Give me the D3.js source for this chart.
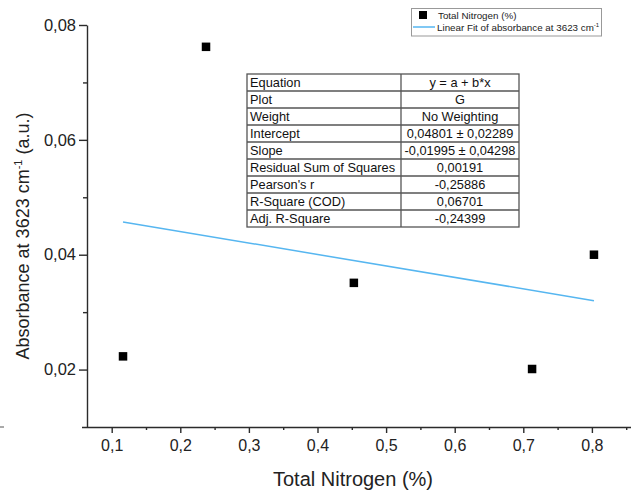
<!DOCTYPE html>
<html>
<head>
<meta charset="utf-8">
<script src="https://cdn.jsdelivr.net/npm/d3@7"></script>
<style>
  html, body { margin: 0; padding: 0; background: #fff; }
  svg { display: block; font-family: "Liberation Sans", Arial, sans-serif; }
</style>
</head>
<body>
<svg id="chart" width="631" height="493"></svg>
<script>
// ---- Data ----
const nitrogen = [0.1165, 0.2375, 0.453, 0.7128, 0.803];
const absorbance = [0.0223, 0.0762, 0.0351, 0.0201, 0.0400];
const fitX = [0.1165, 0.803];
const fitY = [0.0457, 0.0320];
const xMajorTicks = [0.1, 0.2, 0.3, 0.4, 0.5, 0.6, 0.7, 0.8];
const xMinorTicks = [0.15, 0.25, 0.35, 0.45, 0.55, 0.65, 0.75, 0.85];
const yMajorTicks = [0.02, 0.04, 0.06, 0.08];
const yMinorTicks = [0.03, 0.05, 0.07];
const tableLabels = ["Equation", "Plot", "Weight", "Intercept", "Slope",
  "Residual Sum of Squares", "Pearson's r", "R-Square (COD)", "Adj. R-Square"];
const tableValues = ["y = a + b*x", "G", "No Weighting", "0,04801 \u00B1 0,02289",
  "-0,01995 \u00B1 0,04298", "0,00191", "-0,25886", "0,06701", "-0,24399"];
const legendLabels = ["Total Nitrogen (%)", "Linear Fit of absorbance at 3623 cm"];

// ---- Setup ----
const svg = d3.select("#chart");
const axisColor = "#2b2b2b";
const fitColor = "#56b6f0";

const x = d3.scaleLinear().domain([0.064, 0.857]).range([87, 631]);
const y = d3.scaleLinear().domain([0.01, 0.08]).range([427, 25]);

const loc = d3.formatLocale({decimal: ",", thousands: ".", grouping: [3], currency: ["", ""]});
const fx = loc.format(".1f");
const fy = loc.format(".2f");

// ---- Axes ----
const xAxisG = svg.append("g").attr("transform", `translate(0,${y(0.01)})`);
xAxisG.call(d3.axisBottom(x).tickValues(xMajorTicks).tickFormat(fx).tickSize(6).tickSizeOuter(0));
xAxisG.append("g").call(d3.axisBottom(x).tickValues(xMinorTicks).tickFormat("").tickSize(3).tickSizeOuter(0))
  .select(".domain").remove();
xAxisG.selectAll(".domain").attr("d", `M82,0.5H631`);
xAxisG.selectAll("path, line").attr("stroke", axisColor).attr("stroke-width", 1.4);
xAxisG.selectAll(".tick text")
  .attr("font-family", "Liberation Sans, Arial, sans-serif")
  .attr("font-size", 16).attr("fill", "#222").attr("dy", "1.05em").attr("y", 7);

const yAxisG = svg.append("g").attr("transform", `translate(${x(0.064)},0)`);
yAxisG.call(d3.axisLeft(y).tickValues(yMajorTicks).tickFormat(fy).tickSize(8).tickSizeOuter(0));
yAxisG.append("g").call(d3.axisLeft(y).tickValues(yMinorTicks).tickFormat("").tickSize(4).tickSizeOuter(0))
  .select(".domain").remove();
yAxisG.selectAll("path, line").attr("stroke", axisColor).attr("stroke-width", 1.4);
yAxisG.selectAll(".tick text")
  .attr("font-family", "Liberation Sans, Arial, sans-serif")
  .attr("font-size", 16.5).attr("fill", "#222").attr("x", -11);

// small artifact dash at far left
svg.append("line").attr("x1", 0).attr("x2", 4).attr("y1", y(0.01)).attr("y2", y(0.01))
  .attr("stroke", "#555").attr("stroke-width", 1);

// ---- Axis titles ----
svg.append("text")
  .attr("x", 353).attr("y", 486)
  .attr("text-anchor", "middle")
  .attr("font-size", 20).attr("fill", "#222")
  .text("Total Nitrogen (%)");

const yt = svg.append("text")
  .attr("transform", "translate(29,236) rotate(-90)")
  .attr("text-anchor", "middle")
  .attr("font-size", 18).attr("fill", "#222");
yt.append("tspan").text("Absorbance at 3623 cm");
yt.append("tspan").attr("font-size", 11).attr("dy", -7).text("-1");
yt.append("tspan").attr("dy", 7).text(" (a.u.)");

// ---- Fit line ----
const fitPts = fitX.map((v, i) => [v, fitY[i]]);
svg.append("path")
  .attr("d", d3.line().x(d => x(d[0])).y(d => y(d[1]))(fitPts))
  .attr("fill", "none").attr("stroke", fitColor).attr("stroke-width", 1.5);

// ---- Points ----
const sz = 8.5;
svg.selectAll("rect.pt").data(nitrogen.map((v, i) => [v, absorbance[i]]))
  .enter().append("rect").attr("class", "pt")
  .attr("x", d => x(d[0]) - sz / 2).attr("y", d => y(d[1]) - sz / 2)
  .attr("width", sz).attr("height", sz)
  .attr("fill", "#000");

// ---- Table ----
const tX0 = 247, tX1 = 401, tX2 = 519, tY0 = 74, rowH = 17;
const tg = svg.append("g");
tg.append("rect").attr("x", tX0).attr("y", tY0).attr("width", tX2 - tX0)
  .attr("height", rowH * tableLabels.length)
  .attr("fill", "#fff").attr("stroke", "#555").attr("stroke-width", 1.3);
tableLabels.forEach((lab, i) => {
  if (i > 0) {
    tg.append("line").attr("x1", tX0).attr("x2", tX2)
      .attr("y1", tY0 + i * rowH).attr("y2", tY0 + i * rowH)
      .attr("stroke", "#555").attr("stroke-width", 1.3);
  }
  tg.append("text").attr("x", tX0 + 3).attr("y", tY0 + i * rowH + 13)
    .attr("font-size", 12.8).attr("fill", "#111").text(lab);
  tg.append("text").attr("x", (tX1 + tX2) / 2).attr("y", tY0 + i * rowH + 13)
    .attr("text-anchor", "middle")
    .attr("font-size", 12.8).attr("fill", "#111").text(tableValues[i]);
});
tg.append("line").attr("x1", tX1).attr("x2", tX1).attr("y1", tY0)
  .attr("y2", tY0 + rowH * tableLabels.length)
  .attr("stroke", "#555").attr("stroke-width", 1.3);

// ---- Legend ----
const lg = svg.append("g");
lg.append("rect").attr("x", 411.5).attr("y", 8.5).attr("width", 190).attr("height", 27.5)
  .attr("fill", "#fff").attr("stroke", "#999").attr("stroke-width", 1);
lg.append("rect").attr("x", 419).attr("y", 11).attr("width", 8).attr("height", 8).attr("fill", "#000");
lg.append("text").attr("x", 438).attr("y", 18.5).attr("font-size", 9.8).attr("fill", "#222")
  .text(legendLabels[0]);
lg.append("line").attr("x1", 413).attr("x2", 435).attr("y1", 27).attr("y2", 27)
  .attr("stroke", fitColor).attr("stroke-width", 1.5);
const lt = lg.append("text").attr("x", 437).attr("y", 30.5).attr("font-size", 9.8).attr("fill", "#222");
lt.append("tspan").text(legendLabels[1]);
lt.append("tspan").attr("font-size", 6).attr("dy", -4).text("-1");
</script>
</body>
</html>
